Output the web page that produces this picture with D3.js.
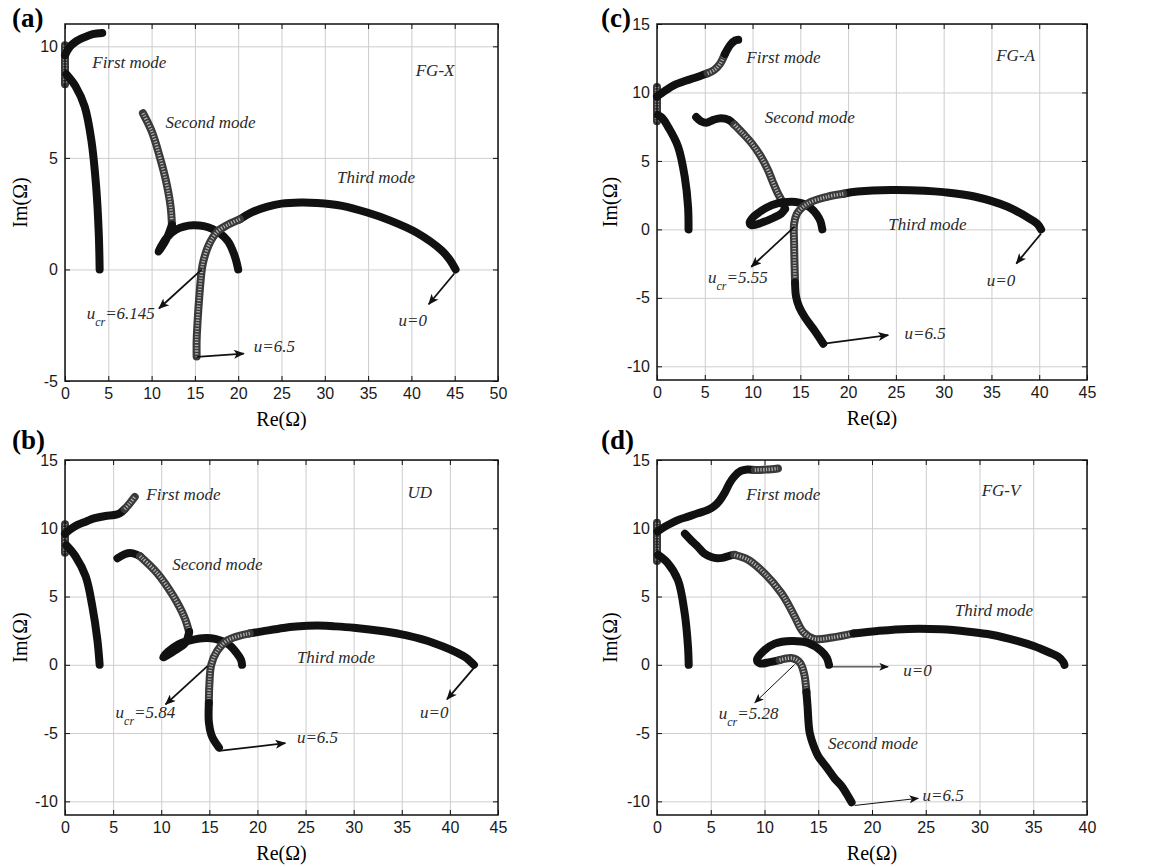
<!DOCTYPE html>
<html>
<head>
<meta charset="utf-8">
<script src="https://cdn.jsdelivr.net/npm/d3@7"></script>
<style>
body { margin: 0; background: #fff; }
</style>
</head>
<body>
<svg id="fig" width="1149" height="867"></svg>
<script>
// ---------- tick values ----------
const xTicksA = [0, 5, 10, 15, 20, 25, 30, 35, 40, 45, 50];
const yTicksA = [-5, 0, 5, 10];
const xTicksB = [0, 5, 10, 15, 20, 25, 30, 35, 40, 45];
const yTicksB = [-10, -5, 0, 5, 10, 15];
const xTicksC = [0, 5, 10, 15, 20, 25, 30, 35, 40, 45];
const yTicksC = [-10, -5, 0, 5, 10, 15];
const xTicksD = [0, 5, 10, 15, 20, 25, 30, 35, 40];
const yTicksD = [-10, -5, 0, 5, 10, 15];

// ---------- (a) FG-X : [Re, Im] ----------
const aFirstZero  = [[0, 10.05], [0, 8.3]];
const aFirstUpper = [[0, 9.6], [0.5, 9.95], [1.2, 10.2], [2.2, 10.4], [3.2, 10.55], [4.3, 10.6]];
const aFirstLower = [[0.15, 8.75], [1.23, 8.2], [2.27, 7.3], [3.04, 5.8], [3.6, 3.7], [3.9, 1.6], [4.0, 0]];
const aSecondGrey = [[9.0, 7.0], [10.0, 6.2], [10.9, 5.1], [11.7, 3.9], [12.2, 2.8], [12.35, 2.0]];
const aSecondDark = [[12.35, 2.0], [11.7, 1.35], [10.8, 0.8], [11.7, 1.4], [12.8, 1.78], [14.8, 1.98], [17.0, 1.82], [18.75, 1.3], [19.6, 0.6], [20.0, 0]];
const aThirdDark  = [[45.1, 0], [44.4, 0.45], [43.5, 0.85], [40.6, 1.65], [37.5, 2.2], [34.9, 2.55], [32.0, 2.85], [29.1, 2.98], [27.2, 3.0], [25.0, 2.95], [23.3, 2.8], [21.5, 2.55], [20.2, 2.25]];
const aThirdGrey  = [[20.2, 2.25], [18.8, 2.0], [17.6, 1.7], [16.6, 1.1], [16.0, 0.4], [15.8, 0], [15.5, -1.25], [15.3, -2.4], [15.2, -3.2], [15.2, -3.9]];

// ---------- (b) UD ----------
const bFirstZero  = [[0, 10.3], [0, 8.2]];
const bFirstUpper = [[0, 9.6], [0.6, 9.95], [1.3, 10.25], [2.2, 10.5], [3.0, 10.72], [4.2, 10.9], [5.1, 10.97], [5.7, 11.1], [6.2, 11.4]];
const bFirstTip   = [[6.2, 11.4], [6.7, 11.8], [7.25, 12.3]];
const bFirstLower = [[0.15, 8.75], [1.1, 7.93], [2.15, 6.47], [2.84, 4.28], [3.36, 1.85], [3.6, 0]];
const bSecondDark = [[5.45, 7.8], [6.2, 8.1], [6.9, 8.18], [7.8, 7.95]];
const bSecondGrey = [[7.8, 7.95], [9.6, 6.7], [11.2, 5.1], [12.4, 3.5], [12.9, 2.4]];
const bSecondLoop = [[12.9, 2.4], [12.5, 1.6], [11.3, 1.0], [10.2, 0.55], [10.7, 0.95], [11.8, 1.5], [12.8, 1.75], [14.3, 1.95], [15.6, 1.9], [17.0, 1.5], [17.8, 0.9], [18.3, 0.35], [18.4, 0]];
const bThirdDark  = [[42.5, 0], [41.8, 0.45], [41.4, 0.65], [38.3, 1.6], [35.5, 2.15], [33.1, 2.46], [30.0, 2.72], [27.9, 2.82], [26.2, 2.87], [24.0, 2.8], [22.7, 2.7], [20.5, 2.45], [19.2, 2.3]];
const bThirdGrey  = [[19.2, 2.3], [16.9, 1.8], [15.8, 1.0], [15.2, 0], [15.0, -1.5], [14.95, -2.8]];
const bThirdTail  = [[14.95, -2.8], [14.95, -4.2], [15.2, -5.1], [15.5, -5.55], [16.0, -6.06]];

// ---------- (c) FG-A ----------
const cFirstZero  = [[0, 10.4], [0, 7.9]];
const cFirstUpper = [[0, 9.7], [0.9, 10.15], [1.85, 10.55], [3.0, 10.85], [3.9, 11.05], [5.3, 11.4]];
const cFirstBend  = [[5.3, 11.4], [6.0, 11.65], [6.6, 12.1], [7.1, 12.8]];
const cFirstTip   = [[7.1, 12.8], [7.7, 13.5], [8.2, 13.8], [8.5, 13.85]];
const cFirstLower = [[0.1, 8.35], [0.6, 8.1], [1.15, 7.5], [2.2, 6.05], [2.9, 3.85], [3.25, 1.65], [3.3, 0]];
const cSecondDark = [[4.1, 8.2], [4.6, 7.9], [5.15, 7.78], [5.9, 8.0], [6.7, 8.12], [7.5, 8.0], [8.1, 7.65]];
const cSecondGrey = [[8.1, 7.65], [9.0, 7.0], [9.9, 6.3], [10.8, 5.4], [11.6, 4.35], [12.1, 3.5], [12.6, 2.7], [13.2, 1.9], [13.4, 1.5]];
const cSecondLoop = [[13.4, 1.5], [13.0, 1.15], [12.2, 0.85], [11.0, 0.5], [9.9, 0.3], [9.7, 0.5], [10.0, 0.85], [10.6, 1.2], [11.5, 1.6], [12.6, 1.9], [13.6, 2.0], [14.5, 2.0], [15.4, 1.85], [16.1, 1.55], [16.7, 1.1], [17.1, 0.6], [17.3, 0]];
const cThirdDark  = [[40.2, 0], [39.8, 0.4], [39.2, 0.7], [36.7, 1.65], [33.2, 2.4], [30.0, 2.72], [28.0, 2.83], [24.5, 2.88], [21.0, 2.76], [19.5, 2.6]];
const cThirdGrey  = [[19.5, 2.6], [17.8, 2.38], [15.8, 1.9], [14.7, 1.2], [14.35, 0.4], [14.35, -1.0], [14.4, -2.7], [14.45, -3.9]];
const cThirdTail  = [[14.45, -3.9], [14.55, -4.9], [14.9, -5.7], [15.5, -6.45], [16.5, -7.4], [17.4, -8.35]];

// ---------- (d) FG-V ----------
const dFirstZero  = [[0, 10.4], [0, 7.6]];
const dFirstUpper = [[0.05, 9.76], [0.7, 10.1], [1.33, 10.37], [2.1, 10.65], [2.9, 10.85], [3.8, 11.1], [4.74, 11.35], [5.3, 11.6], [5.8, 12.0], [6.3, 12.6], [6.75, 13.3], [7.2, 13.8], [7.8, 14.2], [8.4, 14.3], [9.1, 14.27]];
const dFirstTip   = [[9.1, 14.27], [10.2, 14.3], [11.25, 14.38]];
const dFirstLower = [[0.1, 8.05], [1.0, 7.45], [1.95, 6.2], [2.57, 3.8], [2.88, 1.36], [2.95, 0]];
const dUpperDark  = [[2.6, 9.6], [3.2, 9.1], [3.8, 8.65], [4.4, 8.15], [5.05, 7.9], [5.6, 7.8], [6.2, 7.85], [6.8, 8.0], [7.2, 8.05]];
const dUpperGrey  = [[7.2, 8.05], [8.47, 7.7], [10.0, 6.7], [11.57, 5.25], [12.3, 4.3], [12.8, 3.55], [13.6, 2.4], [14.6, 1.9], [16.3, 2.0], [18.3, 2.3]];
const dUpperArc   = [[18.3, 2.3], [20.5, 2.48], [23.35, 2.63], [26.45, 2.6], [29.0, 2.42], [31.1, 2.2], [33.5, 1.75], [35.1, 1.36], [36.5, 0.9], [37.3, 0.6], [37.8, 0.2], [37.9, 0]];
const dLowerLoop  = [[16.0, 0], [15.8, 0.5], [15.3, 1.0], [14.05, 1.6], [12.5, 1.75], [10.95, 1.55], [9.9, 1.0], [9.3, 0.35], [9.6, 0.1], [10.5, 0.2], [11.4, 0.35]];
const dLowerGrey  = [[11.4, 0.35], [12.6, 0.48], [13.3, 0.15], [13.7, -0.7], [13.9, -2.0]];
const dLowerTail  = [[13.9, -2.0], [14.0, -3.0], [14.2, -4.96], [14.6, -6.0], [14.98, -6.67], [15.9, -7.64], [16.5, -8.3], [17.15, -8.86], [17.6, -9.4], [18.1, -10.07]];

// ---------- annotations (text anchored in data units) ----------
const aNotes = [
    {t: 'First mode', x: 3.15, y: 9.03}, {t: 'FG-X', x: 40.5, y: 8.65},
    {t: 'Second mode', x: 11.6, y: 6.33}, {t: 'Third mode', x: 31.4, y: 3.86},
    {t: 'u=6.5', x: 21.8, y: -3.7}, {t: 'u=0', x: 38.5, y: -2.55},
    {t: '=6.145', sub: true, x: 2.5, y: -2.2}
];
const bNotes = [
    {t: 'First mode', x: 8.45, y: 12.1}, {t: 'UD', x: 35.6, y: 12.2},
    {t: 'Second mode', x: 11.15, y: 6.95}, {t: 'Third mode', x: 24.1, y: 0.1},
    {t: 'u=6.5', x: 24.1, y: -5.74}, {t: 'u=0', x: 36.9, y: -3.87},
    {t: '=5.84', sub: true, x: 5.26, y: -3.87}
];
const cNotes = [
    {t: 'First mode', x: 9.35, y: 12.15}, {t: 'FG-A', x: 35.5, y: 12.27},
    {t: 'Second mode', x: 11.27, y: 7.76}, {t: 'Third mode', x: 24.2, y: -0.05},
    {t: 'u=6.5', x: 25.9, y: -7.98}, {t: 'u=0', x: 34.5, y: -4.15},
    {t: '=5.55', sub: true, x: 5.34, y: -3.95}
];
const dNotes = [
    {t: 'First mode', x: 8.3, y: 12.1}, {t: 'FG-V', x: 30.2, y: 12.4},
    {t: 'Third mode', x: 27.7, y: 3.55}, {t: 'Second mode', x: 15.9, y: -6.18},
    {t: 'u=0', x: 22.9, y: -0.83}, {t: 'u=6.5', x: 24.7, y: -9.95},
    {t: '=5.28', sub: true, x: 5.74, y: -4.0}
];

// arrows: [from, to] in data units
const aArrows = [[[15.8, 0], [10.85, -1.75]], [[15.27, -3.92], [20.65, -3.77]], [[44.96, -0.18], [42.0, -1.56]]];
const bArrows = [[[14.8, -0.1], [10.45, -2.9]], [[16.0, -6.3], [22.9, -5.74]], [[42.5, -0.22], [39.7, -2.53]]];
const cArrows = [[[14.4, 0.2], [9.87, -2.73]], [[17.5, -8.34], [24.2, -7.73]], [[40.2, -0.3], [37.6, -2.5]]];
const dArrows = [[[16.2, -0.15], [21.5, -0.15]], [[12.8, 0.02], [9.1, -2.77]], [[18.4, -10.3], [24.3, -9.78]]];


class ModePlot {

    constructor( config, data ) {
        this.config = {
            parent: config.parent,
            left: config.left,
            top: config.top,
            width: config.width,
            height: config.height,
            xdomain: config.xdomain,
            ydomain: config.ydomain,
            xticks: config.xticks,
            yticks: config.yticks,
            letter: config.letter,
            letterPos: config.letterPos,
            ylabelGap: config.ylabelGap || 38,
            thinArrows: config.thinArrows || false
        }
        this.data = data;
        this.init();
    }

    init() {
        let self = this;

        self.chart = d3.select( self.config.parent ).append('g')
            .attr('transform', `translate(${self.config.left}, ${self.config.top})`);

        self.xscale = d3.scaleLinear()
            .domain( self.config.xdomain )
            .range([0, self.config.width]);

        self.yscale = d3.scaleLinear()
            .domain( self.config.ydomain )
            .range([self.config.height, 0]);

        self.line = d3.line()
            .x( d => self.xscale(d[0]) )
            .y( d => self.yscale(d[1]) )
            .curve( d3.curveCatmullRom.alpha(0.5) );
    }

    render() {
        let self = this;
        const w = self.config.width, h = self.config.height;

        // grid
        self.chart.append('g')
            .attr('class', 'grid')
            .attr('transform', `translate(0, ${h})`)
            .call( d3.axisBottom(self.xscale).tickValues(self.config.xticks).tickSize(-h).tickFormat('') );
        self.chart.append('g')
            .attr('class', 'grid')
            .call( d3.axisLeft(self.yscale).tickValues(self.config.yticks).tickSize(-w).tickFormat('') );
        self.chart.selectAll('.grid .domain').remove();
        self.chart.selectAll('.grid line')
            .attr('stroke', '#cdcdcd')
            .attr('stroke-width', 1);

        // curves
        self.data.series.forEach( s => {
            if (s.tone == 'k') {
                self.chart.append('path')
                    .attr('d', self.line(s.pts))
                    .attr('fill', 'none')
                    .attr('stroke', '#111')
                    .attr('stroke-width', 8)
                    .attr('stroke-linecap', 'round')
                    .attr('stroke-linejoin', 'round');
            } else {
                self.chart.append('path')
                    .attr('d', self.line(s.pts))
                    .attr('fill', 'none')
                    .attr('stroke', '#3a3a3a')
                    .attr('stroke-width', 8)
                    .attr('stroke-linecap', 'round')
                    .attr('stroke-linejoin', 'round');
                self.chart.append('path')
                    .attr('d', self.line(s.pts))
                    .attr('fill', 'none')
                    .attr('stroke', '#b4b4b4')
                    .attr('stroke-width', 3.5)
                    .attr('stroke-dasharray', '1.2,1.6');
            }
        });

        // arrows
        const head = self.config.thinArrows ? 'url(#headThin)' : 'url(#head)';
        self.data.arrows.forEach( a => {
            self.chart.append('line')
                .attr('x1', self.xscale(a[0][0]))
                .attr('y1', self.yscale(a[0][1]))
                .attr('x2', self.xscale(a[1][0]))
                .attr('y2', self.yscale(a[1][1]))
                .attr('stroke', '#111')
                .attr('stroke-width', self.config.thinArrows ? 1 : 1.8)
                .attr('marker-end', head);
        });

        // notes
        self.data.notes.forEach( n => {
            const t = self.chart.append('text')
                .attr('x', self.xscale(n.x))
                .attr('y', self.yscale(n.y))
                .style('font-family', '"Liberation Serif", "Times New Roman", serif')
                .style('font-style', 'italic')
                .style('font-size', '17px')
                .attr('fill', '#2a2a2a');
            if (n.sub) {
                t.append('tspan').text('u');
                t.append('tspan').attr('dy', 7).style('font-size', '12px').text('cr');
                t.append('tspan').attr('dy', -7).text(n.t);
            } else {
                t.text(n.t);
            }
        });

        // axes with inward ticks on all four sides
        const fmt = d => String(d);
        const bottom = self.chart.append('g')
            .attr('transform', `translate(0, ${h})`)
            .call( d3.axisBottom(self.xscale).tickValues(self.config.xticks).tickSize(-5).tickSizeOuter(0).tickPadding(7).tickFormat(fmt) );
        const left = self.chart.append('g')
            .call( d3.axisLeft(self.yscale).tickValues(self.config.yticks).tickSize(-5).tickSizeOuter(0).tickPadding(7).tickFormat(fmt) );
        self.chart.append('g')
            .call( d3.axisTop(self.xscale).tickValues(self.config.xticks).tickSize(-5).tickSizeOuter(0).tickFormat('') );
        self.chart.append('g')
            .attr('transform', `translate(${w}, 0)`)
            .call( d3.axisRight(self.yscale).tickValues(self.config.yticks).tickSize(-5).tickSizeOuter(0).tickFormat('') );
        self.chart.selectAll('.domain').remove();
        self.chart.selectAll('.tick line').filter(function () { return this.parentNode.parentNode.getAttribute('class') != 'grid'; })
            .attr('stroke', '#111');
        [bottom, left].forEach( g => g.selectAll('text')
            .style('font-family', '"Liberation Sans", Arial, sans-serif')
            .style('font-size', '16px')
            .attr('fill', '#1a1a1a') );

        self.chart.append('rect')
            .attr('width', w)
            .attr('height', h)
            .attr('fill', 'none')
            .attr('stroke', '#111')
            .attr('stroke-width', 1.5);

        // axis labels
        self.chart.append('text')
            .attr('x', w / 2)
            .attr('y', h + 45)
            .attr('text-anchor', 'middle')
            .style('font-family', '"Liberation Serif", "Times New Roman", serif')
            .style('font-size', '20px')
            .text('Re(\u03A9)');

        self.chart.append('text')
            .attr('transform', `rotate(-90)`)
            .attr('x', -h / 2)
            .attr('y', -self.config.ylabelGap)
            .attr('text-anchor', 'middle')
            .style('font-family', '"Liberation Serif", "Times New Roman", serif')
            .style('font-size', '20px')
            .text('Im(\u03A9)');

        // panel letter
        d3.select( self.config.parent ).append('text')
            .attr('x', self.config.letterPos[0])
            .attr('y', self.config.letterPos[1])
            .style('font-family', '"Liberation Serif", "Times New Roman", serif')
            .style('font-weight', 'bold')
            .style('font-size', '27px')
            .text( self.config.letter );
    }
}

const svg = d3.select('#fig');
svg.append('rect').attr('width', 1149).attr('height', 867).attr('fill', '#fff');

const defs = svg.append('defs');
defs.append('marker')
    .attr('id', 'head')
    .attr('viewBox', '0 -5 12 10')
    .attr('refX', 11).attr('refY', 0)
    .attr('markerWidth', 12).attr('markerHeight', 9)
    .attr('markerUnits', 'userSpaceOnUse')
    .attr('orient', 'auto')
    .append('path').attr('d', 'M0,-5L12,0L0,5L3,0Z').attr('fill', '#111');
defs.append('marker')
    .attr('id', 'headThin')
    .attr('viewBox', '0 -5 12 10')
    .attr('refX', 11).attr('refY', 0)
    .attr('markerWidth', 11).attr('markerHeight', 8)
    .attr('markerUnits', 'userSpaceOnUse')
    .attr('orient', 'auto')
    .append('path').attr('d', 'M0,-5L12,0L0,5L3,0Z').attr('fill', '#111');

const seriesA = [
    {pts: aFirstZero, tone: 'g'}, {pts: aFirstUpper, tone: 'k'}, {pts: aFirstLower, tone: 'k'},
    {pts: aSecondGrey, tone: 'g'}, {pts: aSecondDark, tone: 'k'},
    {pts: aThirdDark, tone: 'k'}, {pts: aThirdGrey, tone: 'g'}
];
const seriesB = [
    {pts: bFirstZero, tone: 'g'}, {pts: bFirstUpper, tone: 'k'}, {pts: bFirstTip, tone: 'g'}, {pts: bFirstLower, tone: 'k'},
    {pts: bSecondDark, tone: 'k'}, {pts: bSecondGrey, tone: 'g'}, {pts: bSecondLoop, tone: 'k'},
    {pts: bThirdDark, tone: 'k'}, {pts: bThirdGrey, tone: 'g'}, {pts: bThirdTail, tone: 'k'}
];
const seriesC = [
    {pts: cFirstZero, tone: 'g'}, {pts: cFirstUpper, tone: 'k'}, {pts: cFirstBend, tone: 'g'}, {pts: cFirstTip, tone: 'k'}, {pts: cFirstLower, tone: 'k'},
    {pts: cSecondDark, tone: 'k'}, {pts: cSecondGrey, tone: 'g'}, {pts: cSecondLoop, tone: 'k'},
    {pts: cThirdDark, tone: 'k'}, {pts: cThirdGrey, tone: 'g'}, {pts: cThirdTail, tone: 'k'}
];
const seriesD = [
    {pts: dFirstZero, tone: 'g'}, {pts: dFirstUpper, tone: 'k'}, {pts: dFirstTip, tone: 'g'}, {pts: dFirstLower, tone: 'k'},
    {pts: dUpperDark, tone: 'k'}, {pts: dUpperGrey, tone: 'g'}, {pts: dUpperArc, tone: 'k'},
    {pts: dLowerLoop, tone: 'k'}, {pts: dLowerGrey, tone: 'g'}, {pts: dLowerTail, tone: 'k'}
];

new ModePlot({parent: '#fig', left: 65, top: 24, width: 433, height: 357, xdomain: [0, 50], ydomain: [-5, 11],
    xticks: xTicksA, yticks: yTicksA, letter: '(a)', letterPos: [12, 27]},
    {series: seriesA, notes: aNotes, arrows: aArrows}).render();
new ModePlot({parent: '#fig', left: 65, top: 460, width: 433, height: 355, xdomain: [0, 45], ydomain: [-11, 15],
    xticks: xTicksB, yticks: yTicksB, letter: '(b)', letterPos: [12, 449]},
    {series: seriesB, notes: bNotes, arrows: bArrows}).render();
new ModePlot({parent: '#fig', left: 657, top: 24, width: 430, height: 356, xdomain: [0, 45], ydomain: [-11, 15],
    xticks: xTicksC, yticks: yTicksC, letter: '(c)', letterPos: [601, 27], ylabelGap: 40},
    {series: seriesC, notes: cNotes, arrows: cArrows}).render();
new ModePlot({parent: '#fig', left: 657, top: 460, width: 430, height: 355, xdomain: [0, 40], ydomain: [-11, 15],
    xticks: xTicksD, yticks: yTicksD, letter: '(d)', letterPos: [601, 449], ylabelGap: 40, thinArrows: true},
    {series: seriesD, notes: dNotes, arrows: dArrows}).render();
</script>
</body>
</html>
